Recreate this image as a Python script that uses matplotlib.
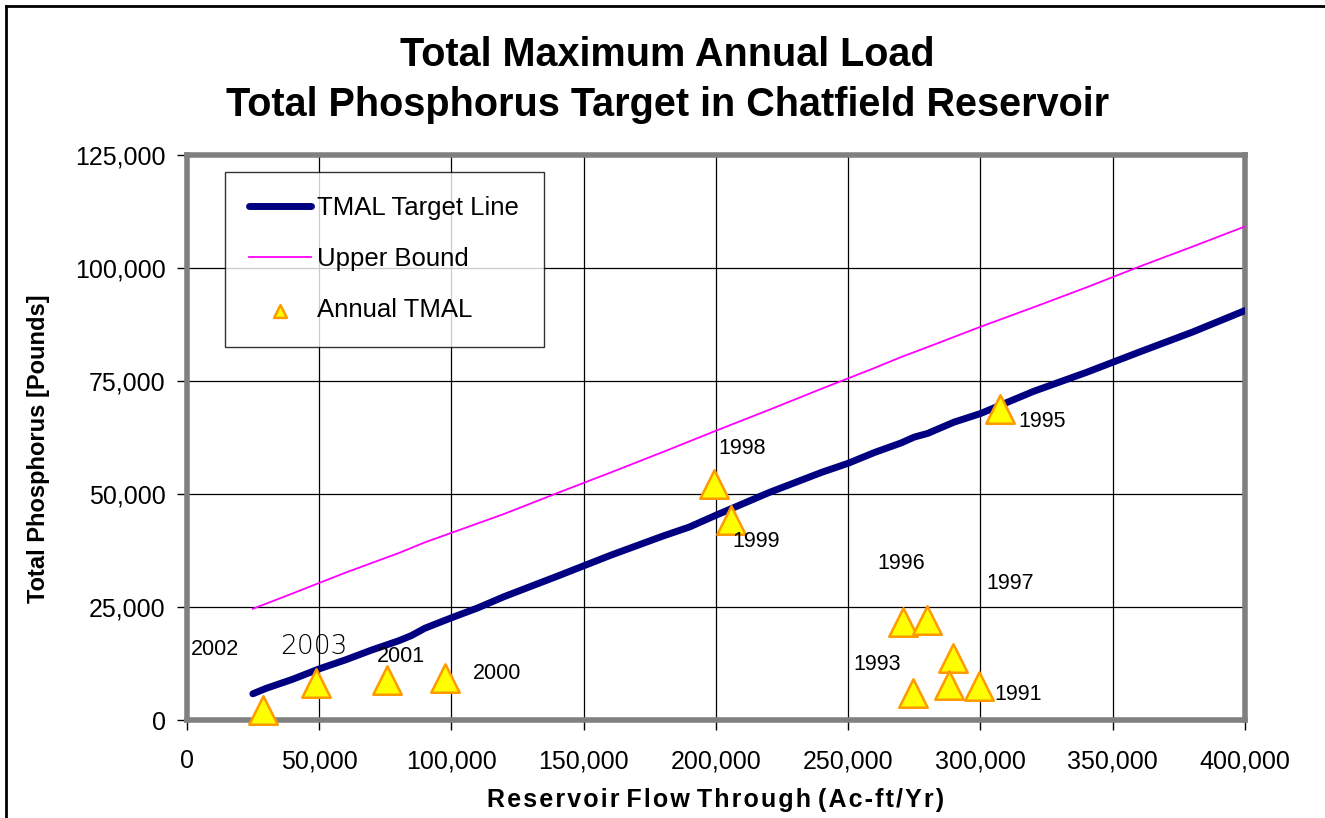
"""TMAL total phosphorus target chart for Chatfield Reservoir."""

import matplotlib
matplotlib.use("Agg")
import matplotlib.pyplot as plt
from matplotlib.lines import Line2D
from matplotlib.ticker import FuncFormatter

plt.rcParams["font.family"] = ["Liberation Sans", "DejaVu Sans"]

# TMAL target line (flow, pounds)
target_x = [25000, 30000, 40000, 50000, 60000, 70000, 80000, 85000, 90000,
            100000, 110000, 120000, 140000, 160000, 180000, 190000, 200000,
            220000, 240000, 250000, 260000, 270000, 275000, 280000, 290000,
            300000, 320000, 340000, 360000, 380000, 400000]
target_y = [5800, 7000, 9000, 11300, 13300, 15500, 17500, 18700, 20300,
            22600, 24800, 27300, 31800, 36400, 40700, 42700, 45300,
            50300, 54800, 56800, 59200, 61300, 62600, 63400, 65900,
            67800, 72700, 76900, 81400, 85800, 90600]

# Upper bound line
upper_x = [25000, 40000, 50000, 60000, 80000, 90000, 100000, 120000, 140000,
           160000, 180000, 200000, 220000, 240000, 250000, 260000, 270000,
           280000, 300000, 320000, 340000, 360000, 380000, 400000]
upper_y = [24600, 28000, 30300, 32600, 36900, 39300, 41400, 45600, 50200,
           54700, 59300, 64000, 68600, 73300, 75600, 77900, 80300,
           82500, 87000, 91300, 95700, 100300, 104700, 109200]

# Annual TMAL points
annual_x = [28800, 48900, 75600, 97600, 199300, 205600, 270600, 279900,
            289700, 274400, 288200, 299500, 307300]
annual_y = [2200, 8200, 8850, 9300, 52200, 44250, 21750, 22100,
            13650, 6050, 7680, 7520, 68900]

# Year labels (text, x, y)
year_labels = ["2002", "2001", "2000", "1998", "1999", "1996", "1997",
               "1993", "1991", "1995"]
year_x = [1500, 71800, 108300, 200900, 206300, 261000, 302300,
          251900, 305100, 314300]
year_y = [15500, 14000, 10200, 60100, 39450, 34700, 30250,
          12200, 5750, 66000]

fig = plt.figure(figsize=(13.25, 8.18), dpi=100)
ax = fig.add_axes([0.1409, 0.1198, 0.7988, 0.6907])

ax.plot(target_x, target_y, color="#000080", lw=5, solid_capstyle="round",
        label="TMAL Target Line", zorder=3)
ax.plot(upper_x, upper_y, color="#ff00ff", lw=1.3, label="Upper Bound", zorder=3)
ax.scatter(annual_x, annual_y, marker="^", s=420, color="#ffff00",
           edgecolors="#ff9900", linewidths=1.8, label="Annual TMAL", zorder=4,
           clip_on=False)

for t, x, y in zip(year_labels, year_x, year_y):
    ax.text(x, y, t, fontsize=15.5, va="center", ha="left", zorder=5)
ax.text(35300, 16200, "2003", fontsize=19, va="center", ha="left",
        family=["DejaVu Sans"], fontweight="light", zorder=5)

ax.set_xlim(0, 400000)
ax.set_ylim(0, 125000)
ax.set_xticks(range(0, 400001, 50000))
ax.set_yticks(range(0, 125001, 25000))
fmt = FuncFormatter(lambda v, p: f"{int(v):,}")
ax.xaxis.set_major_formatter(fmt)
ax.yaxis.set_major_formatter(fmt)
ax.tick_params(labelsize=18, length=7, width=1, direction="out", pad=8)
ax.tick_params(axis="x", pad=14)
ax.grid(True, color="black", lw=0.9)
ax.set_axisbelow(True)
for s in ax.spines.values():
    s.set_color("#808080")
    s.set_linewidth(4)

xlab = "\u200a".join("Reservoir Flow Through (Ac-ft/Yr)").replace("\u200a \u200a", " ")
ax.set_xlabel(xlab, fontsize=18, fontweight="bold", labelpad=11)
ax.set_ylabel("Total Phosphorus [Pounds]", fontsize=17, fontweight="bold")
ax.yaxis.set_label_coords(-0.129, 0.48)

fig.text(0.504, 0.933, "Total Maximum Annual Load", ha="center", va="center",
         fontsize=28.5, fontweight="bold")
fig.text(0.504, 0.872, "Total Phosphorus Target in Chatfield Reservoir",
         ha="center", va="center", fontsize=28.5, fontweight="bold")

leg = ax.legend(loc="upper left", bbox_to_anchor=(0.036, 0.97), fontsize=18.5,
                frameon=True, fancybox=False, edgecolor="black",
                borderpad=0.95, labelspacing=1.05, handlelength=2.4,
                handletextpad=0.25, borderaxespad=0, markerscale=0.45)
leg.get_frame().set_linewidth(1)

# outer chart border (left and top)
fig.add_artist(Line2D([0.0045, 0.0045], [0, 0.9927], color="black", lw=2,
                      transform=fig.transFigure))
fig.add_artist(Line2D([0.0045, 1.0], [0.9927, 0.9927], color="black", lw=2,
                      transform=fig.transFigure))

fig.savefig("out.png", dpi=100)
